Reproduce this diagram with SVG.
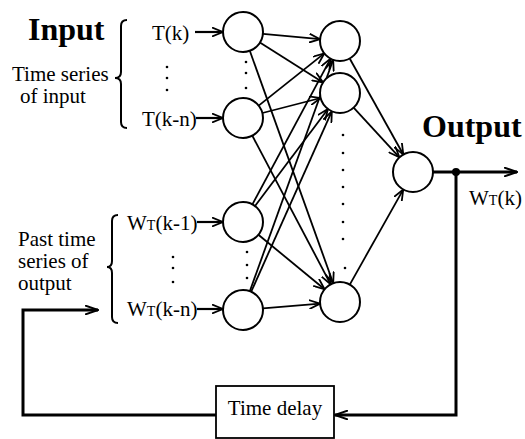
<svg xmlns="http://www.w3.org/2000/svg" width="525" height="439" viewBox="0 0 525 439">
<style>
text{font-family:"Liberation Serif","Times New Roman",serif;fill:#000}
.t{font-size:21px}
.b{font-size:32px;font-weight:bold}
.s{font-size:14px}
.node{fill:#fff;stroke:#000;stroke-width:2}
.c{stroke:#000;stroke-width:1.8;fill:none;marker-end:url(#ah)}
.in{stroke:#000;stroke-width:2.2;fill:none;marker-end:url(#ah)}
.fb{stroke:#000;stroke-width:3;fill:none}
.br{stroke:#000;stroke-width:2;fill:none}
.dot{fill:#000}
</style>
<defs>
<marker id="ah" viewBox="0 0 12 10" refX="11" refY="5" markerWidth="12" markerHeight="10" markerUnits="userSpaceOnUse" orient="auto">
<path d="M0,0.5 L11,5 L0,9.5" fill="none" stroke="#000" stroke-width="1.8"/>
</marker>
<marker id="ahf" viewBox="0 0 14 10" refX="13" refY="5" markerWidth="14" markerHeight="10" markerUnits="userSpaceOnUse" orient="auto">
<path d="M0,0.5 L13,5 L0,9.5" fill="none" stroke="#000" stroke-width="2"/>
</marker>
</defs>

<g id="labels">
<text class="b" x="28" y="40">Input</text>
<text class="t" x="12" y="81">Time series</text>
<text class="t" x="20" y="103">of input</text>
<path class="br" d="M127,20 Q121,20 121,26 L121,72 Q121,78 115,78 Q121,78 121,84 L121,122 Q121,128 127,128"/>
<text class="t" x="18" y="246">Past time</text>
<text class="t" x="18" y="268">series of</text>
<text class="t" x="18" y="290">output</text>
<path class="br" d="M118,215 Q112,215 112,221 L112,261 Q112,267 107,267 Q112,267 112,273 L112,317 Q112,323 118,323"/>
<text class="t" x="152" y="40">T(k)</text>
<text class="t" x="142" y="126">T(k-n)</text>
<text class="t" x="127" y="230">W<tspan class="s">T</tspan>(k-1)</text>
<text class="t" x="127" y="316">W<tspan class="s">T</tspan>(k-n)</text>
<text class="b" x="422" y="137">Output</text>
<text class="t" x="469" y="205">W<tspan class="s">T</tspan>(k)</text>
<g class="dot">
<circle cx="167" cy="67" r="1.3"/><circle cx="167" cy="78" r="1.3"/><circle cx="167" cy="90" r="1.3"/>
<circle cx="246" cy="62" r="1.3"/><circle cx="246" cy="73" r="1.3"/><circle cx="246" cy="88" r="1.3"/>
<circle cx="173" cy="257" r="1.3"/><circle cx="173" cy="268" r="1.3"/><circle cx="173" cy="282" r="1.3"/>
<circle cx="247" cy="252" r="1.3"/><circle cx="247" cy="265" r="1.3"/><circle cx="247" cy="278" r="1.3"/>
<circle cx="343" cy="135" r="1.3"/><circle cx="343" cy="153" r="1.3"/><circle cx="343" cy="170" r="1.3"/><circle cx="343" cy="187" r="1.3"/>
<circle cx="343" cy="204" r="1.3"/><circle cx="343" cy="222" r="1.3"/><circle cx="343" cy="239" r="1.3"/><circle cx="345" cy="268" r="1.3"/>
</g>
</g>

<g id="connectors">
<line class="in" x1="195" y1="32" x2="223" y2="32"/>
<line class="in" x1="196" y1="118" x2="223" y2="118"/>
<line class="in" x1="197" y1="222" x2="223" y2="222"/>
<line class="in" x1="197" y1="309" x2="223" y2="309"/>

<line class="c" x1="263" y1="33.8" x2="320.1" y2="39.2"/>
<line class="c" x1="259.9" y1="42.6" x2="323.1" y2="82.4"/>
<line class="c" x1="249.8" y1="50.8" x2="333.2" y2="283.2"/>
<line class="c" x1="258.7" y1="105.6" x2="324.3" y2="53.4"/>
<line class="c" x1="262.4" y1="113" x2="320.6" y2="98"/>
<line class="c" x1="252.3" y1="135.7" x2="330.7" y2="284.3"/>
<line class="c" x1="252.4" y1="204.4" x2="330.6" y2="58.6"/>
<line class="c" x1="255" y1="206" x2="328" y2="109"/>
<line class="c" x1="258.4" y1="234.7" x2="324.6" y2="289.3"/>
<line class="c" x1="249.8" y1="291.2" x2="333.2" y2="59.8"/>
<line class="c" x1="251.2" y1="291.7" x2="331.8" y2="111.3"/>
<line class="c" x1="262.9" y1="308.4" x2="320.1" y2="303.6"/>

<line class="c" x1="349.7" y1="58.5" x2="403.3" y2="154.5"/>
<line class="c" x1="353.6" y1="107.7" x2="399.4" y2="157.3"/>
<line class="c" x1="349.8" y1="284.6" x2="403.2" y2="189.6"/>

<line class="fb" x1="433" y1="172" x2="517" y2="172" marker-end="url(#ahf)"/>
<circle cx="456" cy="172" r="4" fill="#000"/>
<polyline class="fb" points="456,172 456,415 335,415" marker-end="url(#ahf)"/>
<polyline class="fb" points="216,415 23,415 23,310 98,310" marker-end="url(#ahf)"/>
</g>

<g id="delay">
<rect x="216" y="386" width="118" height="52" fill="#fff" stroke="#000" stroke-width="1.8"/>
<text class="t" x="275" y="415" text-anchor="middle">Time delay</text>
</g>

<g id="input-nodes">
<circle class="node" cx="243" cy="32" r="20"/>
<circle class="node" cx="243" cy="118" r="20"/>
<circle class="node" cx="243" cy="222" r="20"/>
<circle class="node" cx="243" cy="310" r="20"/>
</g>
<g id="hidden-nodes">
<circle class="node" cx="340" cy="41" r="20"/>
<circle class="node" cx="340" cy="93" r="20"/>
<circle class="node" cx="340" cy="302" r="20"/>
</g>
<g id="output-node">
<circle class="node" cx="413" cy="172" r="20"/>
</g>
</svg>
